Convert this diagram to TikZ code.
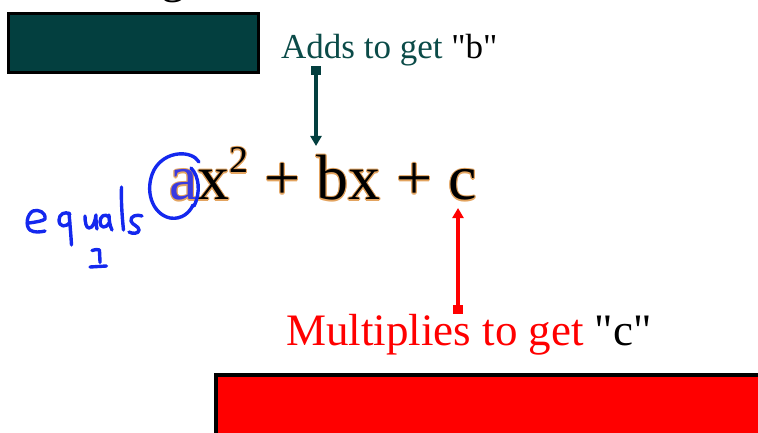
\documentclass[tikz,border=0pt]{standalone}
\usepackage{fontspec}
\setmainfont{Liberation Serif}
\usetikzlibrary{arrows.meta}
\definecolor{tealfill}{HTML}{033F3F}
\definecolor{tealtxt}{HTML}{0B4B48}
\definecolor{glow}{HTML}{E3A460}
\definecolor{pen}{HTML}{1428EE}
\definecolor{ablue}{HTML}{3A3AE0}
\newcommand\myquad[2]{\textcolor{#1}{a}\textcolor{#2}{x\raisebox{27pt}{\fontsize{38}{38}\selectfont 2} + bx + c}}
\newcommand\glowcopy[2]{\rlap{\hspace*{#1}\raisebox{#2}{\myquad{glow}{glow}}}}
\newcommand\glowquad{\fontsize{64}{64}\selectfont
  \glowcopy{1.2pt}{0pt}\glowcopy{-1.2pt}{0pt}\glowcopy{0pt}{1.2pt}\glowcopy{0pt}{-1.2pt}%
  \glowcopy{0.85pt}{0.85pt}\glowcopy{-0.85pt}{0.85pt}\glowcopy{0.85pt}{-0.85pt}\glowcopy{-0.85pt}{-0.85pt}%
  \myquad{ablue}{black}}
\newcommand\qt{\textquotedbl}
\tikzset{
  bar/.style={line width=3pt, draw=black},
  lbl/.style={inner sep=0pt, anchor=base west},
  eqn/.style={inner sep=0pt, anchor=base west},
  penline/.style={draw=pen, line width=3.4pt, line cap=round, line join=round},
  tealarrow/.style={draw=tealfill, line width=3.6pt, {Square[length=8.5pt,width=9.5pt]}-{Triangle[length=10pt,width=11pt]}},
  redarrow/.style={draw=red, line width=3.6pt, {Square[length=9pt,width=10pt]}-{Triangle[length=10pt,width=11pt]}}
}
\begin{document}
\begin{tikzpicture}[x=1pt,y=-1pt]
\useasboundingbox (0,0) rectangle (758,433);
\begin{scope}
\clip (0,0) rectangle (758,433);
% cut-off title letter
\node[lbl, font=\fontsize{48}{48}\selectfont] (title) at (161,-7.5) {g};
% teal box
\path[bar, fill=tealfill] (8.5,13.5) rectangle (258.5,72.5);
% red box
\path[line width=4pt, draw=black, fill=red] (216,375) rectangle (780,450);
% labels
\node[lbl, font=\fontsize{35}{35}\selectfont, text=tealtxt] (adds) at (281,59) {Adds to get \textcolor{black}{\qt b\qt}};
\node[lbl, font=\fontsize{45}{45}\selectfont, text=red] (mult) at (286,345) {Multiplies to get \textcolor{black}{\qt c\qt}};
% equation with glow
\node[eqn] (eq) at (169,200) {\glowquad};
% arrows
\coordinate (bsq) at (316,66.5);
\coordinate (btip) at (316,146);
\draw[tealarrow] (bsq) -- (btip);
\coordinate (csq) at (458,313.5);
\coordinate (ctip) at (458,208);
\draw[redarrow] (csq) -- (ctip);
% handwriting: circle round a
\draw[penline] (199,162) .. controls (192,150) and (165,150) .. (154,170)
   .. controls (144,190) and (152,214) .. (170,218)
   .. controls (182,220) and (190,212) .. (193,205);
\draw[penline] (191,168) .. controls (199,176) and (201,192) .. (194,206);
% "equals"
\draw[penline] (29,223) .. controls (36,222) and (43,221) .. (45,219)
   .. controls (46,212) and (38,209) .. (33,211)
   .. controls (27,214) and (25,226) .. (30,230)
   .. controls (34,233) and (41,232) .. (45,231);
\draw[penline] (70,214) .. controls (65,211) and (59,214) .. (59,220)
   .. controls (59,227) and (66,228) .. (70,222);
\draw[penline] (69,213) .. controls (70,225) and (71,236) .. (71.5,245);
\draw[penline] (85,216) .. controls (85,222) and (86,228) .. (89,228)
   .. controls (93,228) and (95,222) .. (96,215)
   .. controls (96,220) and (96,225) .. (97,229);
\draw[penline] (109,217) .. controls (105,213) and (100,216) .. (100,222)
   .. controls (100,228) and (106,229) .. (109,223);
\draw[penline] (109,215) .. controls (109,221) and (110,226) .. (112,230);
\draw[penline] (121.5,187) .. controls (121,200) and (122,216) .. (123.5,230);
\draw[penline] (142,216) .. controls (137,214) and (130,216) .. (131,221)
   .. controls (132,225) and (139,226) .. (139,230)
   .. controls (139,234) and (132,234) .. (129,232);
% "1" with underline
\draw[penline] (92,250.5) .. controls (95,249.5) and (98,249) .. (99.5,250)
   .. controls (99.5,254) and (100,259) .. (100,262.5);
\draw[penline] (90,267) -- (106.5,266);
\end{scope}
\end{tikzpicture}
\end{document}
